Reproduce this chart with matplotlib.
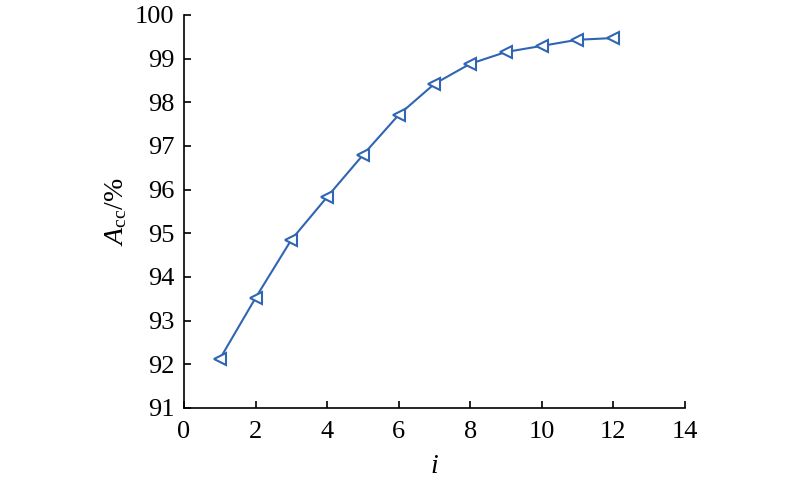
import numpy as np
import matplotlib.pyplot as plt

plt.rcParams["font.family"] = ["Liberation Serif", "DejaVu Serif"]
plt.rcParams["mathtext.fontset"] = "custom"
plt.rcParams["mathtext.rm"] = "Liberation Serif"
plt.rcParams["mathtext.it"] = "Liberation Serif:italic"

# data
iters = [1, 2, 3, 4, 5, 6, 7, 8, 9, 10, 11, 12]
acc = [92.12, 93.52, 94.85, 95.83, 96.79, 97.71, 98.42, 98.88, 99.15, 99.29, 99.43, 99.47]
x_ticks = [0, 2, 4, 6, 8, 10, 12, 14]
y_ticks = [91, 92, 93, 94, 95, 96, 97, 98, 99, 100]

BLUE = "#2f65b2"

fig = plt.figure(figsize=(8, 4.8), dpi=100)
ax = fig.add_axes([0.23, 0.15, 0.626, 0.819])

ax.plot(iters, acc, color=BLUE, lw=1.5, marker="<", markersize=8,
        markerfacecolor="white", markeredgecolor=BLUE, markeredgewidth=1.5)

ax.set_xlim(0, 14)
ax.set_ylim(91, 100)
ax.set_xticks(x_ticks)
ax.set_yticks(y_ticks)
ax.spines["top"].set_visible(False)
ax.spines["right"].set_visible(False)
for s in ("left", "bottom"):
    ax.spines[s].set_linewidth(1.2)
ax.tick_params(direction="in", length=5, width=1.2, labelsize=19)
ax.tick_params(axis="x", pad=9)
ax.tick_params(axis="y", pad=7)

ax.set_xlabel(r"$i$", fontsize=20, labelpad=8)
ax.set_ylabel(r"$A_{\mathrm{cc}}$/%", fontsize=20, labelpad=4)

fig.savefig("out.png", dpi=100)
